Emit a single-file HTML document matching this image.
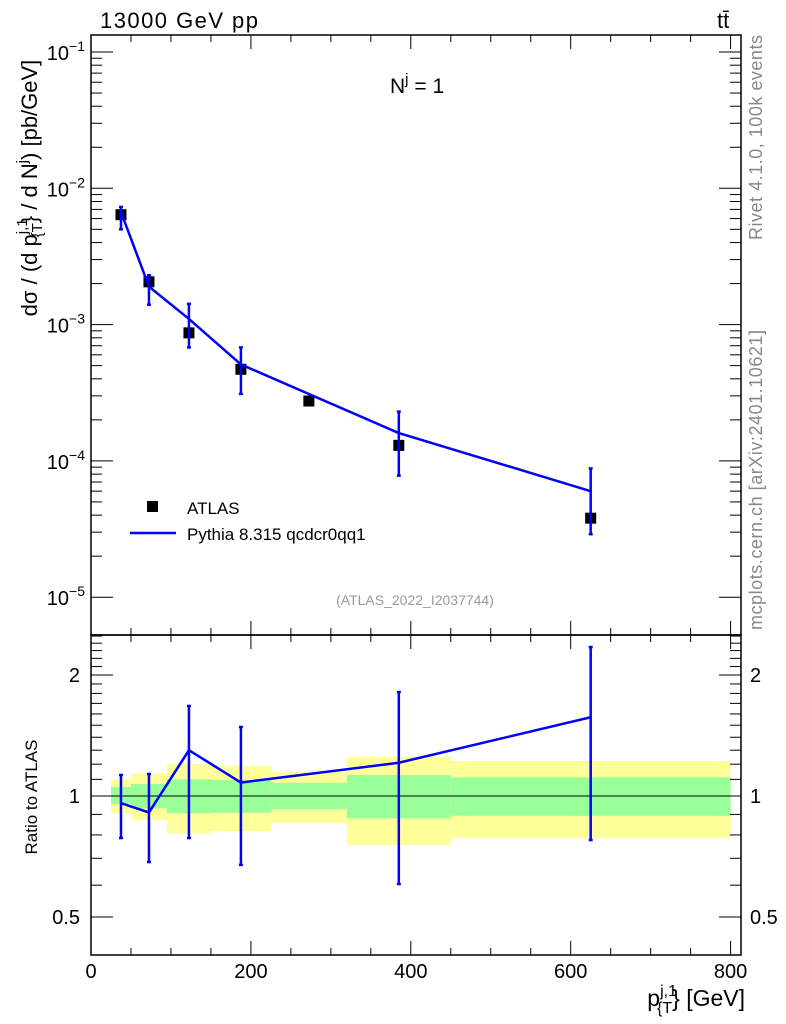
<!DOCTYPE html>
<html><head><meta charset="utf-8"><style>
body{margin:0;background:#fff}
svg{display:block;font-family:"Liberation Sans",sans-serif}
</style></head><body>
<svg id="c" width="786" height="1024" viewBox="0 0 786 1024" xmlns="http://www.w3.org/2000/svg"></svg>
<script>
// data
const binEdges=[25,50,95,150,225,320,450,800];
const atlasX=[37.5,72.5,122.5,187.5,272.5,385,625];
const atlasY=[6.4e-3,2.06e-3,8.7e-4,4.7e-4,2.75e-4,1.3e-4,3.8e-5];
const pyX=[37.5,72.5,122.5,187.5,385,625];
const pyY=[6.7e-3,1.9e-3,1.1e-3,5.1e-4,1.6e-4,6.0e-5];
const pyErrLo=[5.0e-3,1.4e-3,6.8e-4,3.1e-4,7.8e-5,2.9e-5];
const pyErrHi=[7.3e-3,2.3e-3,1.42e-3,6.8e-4,2.3e-4,8.8e-5];
const ratioY=[0.96,0.91,1.30,1.08,1.21,1.57];
const ratioLo=[0.786,0.685,0.786,0.674,0.604,0.777];
const ratioHi=[1.128,1.134,1.675,1.485,1.814,2.347];
const yelUp=[1.100,1.139,1.201,1.189,1.149,1.253,1.222];
const yelDn=[0.906,0.872,0.808,0.818,0.855,0.755,0.787];
const grnUp=[1.053,1.071,1.100,1.096,1.079,1.128,1.113];
const grnDn=[0.955,0.932,0.906,0.909,0.927,0.880,0.893];
const xTicks=[0,200,400,600,800];
const yDecades=[-1,-2,-3,-4,-5];
const rTicks=[2,1,0.5];

const L=91,R=741,T=35,M=635,B=955;
const X=v=>L+v*0.7995;
const Y=v=>52-(Math.log10(v)+1)*136.3;
const RY=v=>796-Math.log2(v)*121;
const svg=document.getElementById('c');
const NS='http://www.w3.org/2000/svg';
function el(tag,attrs,parent){const e=document.createElementNS(NS,tag);for(const k in attrs)e.setAttribute(k,attrs[k]);(parent||svg).appendChild(e);return e;}
function txt(s,attrs,parent){const e=el('text',attrs,parent);e.textContent=s;return e;}

// ratio bands
const bands=el('g',{});


for(let i=0;i<yelUp.length;i++){
 const x0=X(binEdges[i]),x1=X(binEdges[i+1]);
 const ry=el('rect',{x:x0,y:RY(yelUp[i]),width:x1-x0,height:RY(yelDn[i])-RY(yelUp[i]),fill:'#ffff99'},bands);
 
 
}
for(let i=0;i<grnUp.length;i++){
 const x0=X(binEdges[i]),x1=X(binEdges[i+1]);
 const rg=el('rect',{x:x0,y:RY(grnUp[i]),width:x1-x0,height:RY(grnDn[i])-RY(grnUp[i]),fill:'#99ff99'},bands);
 
 
}
el('line',{x1:L,x2:R,y1:RY(1),y2:RY(1),stroke:'#000','stroke-width':1});

// frames
const f1=el('rect',{x:L,y:T,width:R-L,height:M-T,fill:'none',stroke:'#000','stroke-width':1.5});

const f2=el('rect',{x:L,y:M,width:R-L,height:B-M,fill:'none',stroke:'#000','stroke-width':1.5});


// x ticks
for(let v=0;v<=800;v+=50){
 const big=v%200===0,len=big?14:7,x=X(v);
 el('line',{x1:x,x2:x,y1:B,y2:B-len,stroke:'#000'});
 el('line',{x1:x,x2:x,y1:M,y2:M-len,stroke:'#000'});
 el('line',{x1:x,x2:x,y1:M,y2:M+len,stroke:'#000'});
 el('line',{x1:x,x2:x,y1:T,y2:T+len,stroke:'#000'});
}
xTicks.forEach(v=>{const t=txt(String(v),{x:X(v),y:978,'font-size':20,'text-anchor':'middle'});
 });

// y log ticks
yDecades.forEach(d=>{
 for(let m=1;m<=9;m++){
  const v=m*Math.pow(10,d),y=Y(v);
  if(y<T||y>M)continue;
  const len=m===1?22:11;
  el('line',{x1:L,x2:L+len,y1:y,y2:y,stroke:'#000'});
  el('line',{x1:R,x2:R-len,y1:y,y2:y,stroke:'#000'});
 }
 const t=el('text',{x:85,y:Y(Math.pow(10,d))+8,'font-size':20,'text-anchor':'end'});
 
 t.innerHTML='10<tspan dy="-9" font-size="14">\u2212'+(-d)+'</tspan>';
});

// ratio ticks
for(let i=4;i<=25;i++){
 const v=i/10,y=RY(v);if(y<M||y>B)continue;
 const len=(v===0.5||v===1||v===2)?22:11;
 el('line',{x1:L,x2:L+len,y1:y,y2:y,stroke:'#000'});
 el('line',{x1:R,x2:R-len,y1:y,y2:y,stroke:'#000'});
}
rTicks.forEach(v=>{
 const a=txt(String(v),{x:80,y:RY(v)+7,'font-size':20,'text-anchor':'end'});
 
 const b=txt(String(v),{x:750,y:RY(v)+7,'font-size':20});
 
});

// ATLAS points
atlasX.forEach((x,i)=>{
 const r=el('rect',{x:X(x)-5.5,y:Y(atlasY[i])-5.5,width:11,height:11,fill:'#000'});
 
});

// Pythia line + errors
const pts=pyX.map((x,i)=>X(x)+','+Y(pyY[i])).join(' ');
const pl=el('polyline',{points:pts,fill:'none',stroke:'#0000ff','stroke-width':2.5});

pyX.forEach((x,i)=>{
 const g=el('g',{stroke:'#0000ff','stroke-width':2.5});
 
 const xx=X(x);
 el('line',{x1:xx,x2:xx,y1:Y(pyErrLo[i]),y2:Y(pyErrHi[i])},g);
 el('line',{x1:xx-2,x2:xx+2,y1:Y(pyErrLo[i]),y2:Y(pyErrLo[i])},g);
 el('line',{x1:xx-2,x2:xx+2,y1:Y(pyErrHi[i]),y2:Y(pyErrHi[i])},g);
});
const rpts=pyX.map((x,i)=>X(x)+','+RY(ratioY[i])).join(' ');
const rl=el('polyline',{points:rpts,fill:'none',stroke:'#0000ff','stroke-width':2.5});

pyX.forEach((x,i)=>{
 const g=el('g',{stroke:'#0000ff','stroke-width':2.5});
 
 const xx=X(x),hi=RY(ratioHi[i]);
 el('line',{x1:xx,x2:xx,y1:Math.min(RY(ratioLo[i]),B),y2:Math.max(hi,M)},g);
 if(RY(ratioLo[i])<B)el('line',{x1:xx-2,x2:xx+2,y1:RY(ratioLo[i]),y2:RY(ratioLo[i])},g);
 if(hi>M)el('line',{x1:xx-2,x2:xx+2,y1:hi,y2:hi},g);
});
</script>
<svg width="786" height="1024" style="position:absolute;left:0;top:0" xmlns="http://www.w3.org/2000/svg">
 <g font-family="Liberation Sans, sans-serif">
 <text x="100" y="28" font-size="22" textLength="158">13000 GeV pp</text>
 <text x="717" y="28" font-size="22">tt̄</text>
 <text x="390" y="93" font-size="21">N<tspan dy="-9" font-size="15">j</tspan><tspan dy="9"> = 1</tspan></text>
 <text x="415" y="605" font-size="14" fill="#999" text-anchor="middle">(ATLAS_2022_I2037744)</text>
 <rect x="147" y="501" width="11" height="11" fill="#000"/>
 <text x="187" y="514" font-size="17">ATLAS</text>
 <line x1="130" x2="176" y1="533" y2="533" stroke="#0000ff" stroke-width="2.5"/>
 <text x="187" y="540" font-size="17">Pythia 8.315 qcdcr0qq1</text>
 <text transform="translate(762,240) rotate(-90)" font-size="18" fill="#888" textLength="205">Rivet 4.1.0,  100k events</text>
 <text transform="translate(762,630) rotate(-90)" font-size="18" fill="#888" textLength="300">mcplots.cern.ch [arXiv:2401.10621]</text>
 <text transform="translate(37,188) rotate(-90)" font-size="22" text-anchor="middle">dσ / (d p<tspan dy="-10" font-size="15">j,1</tspan><tspan dy="15" font-size="15" dx="-19">{T</tspan><tspan dy="-5">} / d N</tspan><tspan dy="-10" font-size="15">j</tspan><tspan dy="10">) [pb/GeV]</tspan></text>
 <text transform="translate(37,797) rotate(-90)" font-size="17" text-anchor="middle">Ratio to ATLAS</text>
 <text x="745" y="1006" font-size="23" text-anchor="end">p<tspan dy="-10" font-size="16">j,1</tspan><tspan dy="17" font-size="16" dx="-20">{T</tspan><tspan dy="-7">} [GeV]</tspan></text>
 </g>
</svg>
</body></html>
